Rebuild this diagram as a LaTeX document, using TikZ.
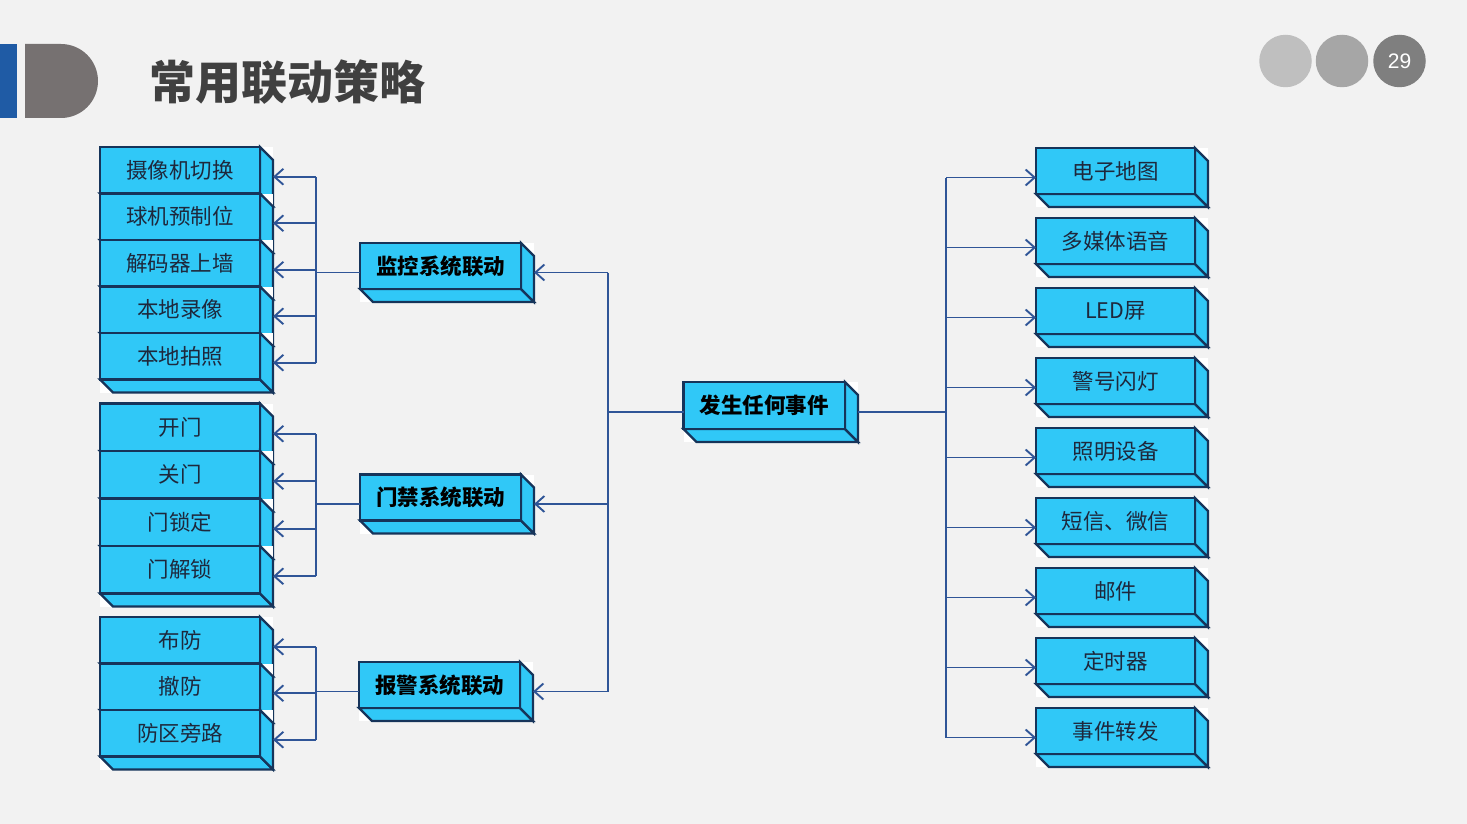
\documentclass[tikz,border=0pt]{standalone}
\usepackage{fontspec}
\setmainfont{Noto Sans CJK SC}
\newfontfamily\latinsans{Liberation Sans}
\usetikzlibrary{arrows.meta,calc}
\definecolor{bg}{RGB}{242,242,242}
\definecolor{boxfill}{RGB}{48,200,247}
\definecolor{boxline}{RGB}{22,52,90}
\definecolor{conn}{RGB}{47,85,151}
\definecolor{txt}{RGB}{30,40,60}
\definecolor{titlec}{RGB}{64,64,64}
\definecolor{barblue}{RGB}{31,91,165}
\definecolor{dgray}{RGB}{118,113,113}
\definecolor{c1}{RGB}{191,191,191}
\definecolor{c2}{RGB}{166,166,166}
\definecolor{c3}{RGB}{127,127,127}
\tikzset{
 face/.style={fill=boxfill, draw=boxline, line width=2.2pt, line join=miter},
 frontbox/.style={face, rectangle, inner sep=0pt, outer sep=0pt, anchor=north west, text=txt, font=\fontsize{21.5}{24}\selectfont},
 mainlabel/.style={font=\fontsize{21.5}{24}\selectfont\bfseries, text=black},
 link/.style={draw=conn, line width=1.9pt},
 arr/.style={link, -{Straight Barb[length=9pt,width=16pt]}},
 dot/.style={circle, inner sep=0pt, minimum size=52.5pt},
}
% #1 extra style, #2 name, #3 x, #4 y, #5 w, #6 h, #7 text
\newcommand\tdbox[7][]{%
 \fill[white] (#3,#4) rectangle (#3+#5+13,#4+#6+13);
 \path[face] (#3,#4+#6) -- (#3+13,#4+#6+13) -- (#3+#5+13,#4+#6+13) -- (#3+#5,#4+#6) -- cycle;
 \path[face] (#3+#5,#4) -- (#3+#5+13,#4+13) -- (#3+#5+13,#4+#6+13) -- (#3+#5,#4+#6) -- cycle;
 \node[frontbox, minimum width=#5, minimum height=#6, #1] (#2) at (#3,#4) {#7};
 \coordinate (#2-l) at (#3,#4+#6/2+6.5);
 \coordinate (#2-r) at (#3+#5+13,#4+#6/2+6.5);
}
\begin{document}
\begin{tikzpicture}[x=1pt,y=-1pt]
\useasboundingbox (0,0) rectangle (1467,824);
\fill[bg] (0,0) rectangle (1467,824);
% header
\fill[barblue] (0,44) rectangle (17,118);
\fill[dgray] (25,44) -- (61,44) arc[start angle=-90, end angle=90, radius=37] -- (25,118) -- cycle;
\node[font=\fontsize{46}{50}\selectfont\bfseries, text=titlec, anchor=west, inner sep=0pt] (title) at (149,82) {常用联动策略};
\node[dot, fill=c1] (d1) at (1285.5,61) {};
\node[dot, fill=c2] (d2) at (1342,61) {};
\node[dot, fill=c3, text=white, font=\latinsans\fontsize{21}{24}\selectfont] (d3) at (1399.5,61) {29};
% left group 1
\tdbox{cam}{100}{147}{160}{46.5}{摄像机切换}
\tdbox{ball}{100}{193.5}{160}{46.5}{球机预制位}
\tdbox{dec}{100}{240}{160}{46.5}{解码器上墙}
\tdbox{rec}{100}{286.5}{160}{46.5}{本地录像}
\tdbox{pho}{100}{333}{160}{46.5}{本地拍照}
% left group 2
\tdbox{kai}{100}{403.5}{160}{47.5}{开门}
\tdbox{guan}{100}{451}{160}{47.5}{关门}
\tdbox{suo}{100}{498.5}{160}{47.5}{门锁定}
\tdbox{jie}{100}{546}{160}{47.5}{门解锁}
% left group 3
\tdbox{bu}{100}{617}{160}{46.5}{布防}
\tdbox{che}{100}{663.5}{160}{46.5}{撤防}
\tdbox{pang}{100}{710}{160}{46.5}{防区旁路}
% middle
\tdbox[mainlabel]{jk}{360}{243}{161}{46}{监控系统联动}
\tdbox[mainlabel]{mj}{360}{474.5}{161}{46}{门禁系统联动}
\tdbox[mainlabel]{bj}{359}{662}{161}{46}{报警系统联动}
% center
\tdbox[mainlabel]{cen}{683.5}{382}{161.5}{47}{发生任何事件}
% right
\tdbox{r1}{1036}{148}{159}{46}{电子地图}
\tdbox{r2}{1036}{218}{159}{46}{多媒体语音}
\tdbox{r3}{1036}{288}{159}{46}{LED屏}
\tdbox{r4}{1036}{358}{159}{46}{警号闪灯}
\tdbox{r5}{1036}{428}{159}{46}{照明设备}
\tdbox{r6}{1036}{498}{159}{46}{短信、微信}
\tdbox{r7}{1036}{568}{159}{46}{邮件}
\tdbox{r8}{1036}{638}{159}{46}{定时器}
\tdbox{r9}{1036}{708}{159}{46}{事件转发}
% connector guides
\coordinate (lv) at (316,0);
\coordinate (mv) at (608,0);
\coordinate (rv) at (946,0);
% group 1
\draw[link] (lv |- cam-r) -- (lv |- pho-r);
\draw[link] (jk-l) -- (lv |- jk-l);
\foreach \b in {cam,ball,dec,rec,pho} \draw[arr] (lv |- \b-r) -- (\b-r);
% group 2
\draw[link] (lv |- kai-r) -- (lv |- jie-r);
\draw[link] (mj-l) -- (lv |- mj-l);
\foreach \b in {kai,guan,suo,jie} \draw[arr] (lv |- \b-r) -- (\b-r);
% group 3
\draw[link] (lv |- bu-r) -- (lv |- pang-r);
\draw[link] (bj-l) -- (lv |- bj-l);
\foreach \b in {bu,che,pang} \draw[arr] (lv |- \b-r) -- (\b-r);
% middle
\draw[link] (mv |- jk-r) -- (mv |- bj-r);
\draw[link] (cen-l) -- (mv |- cen-l);
\foreach \b in {jk,mj,bj} \draw[arr] (mv |- \b-r) -- (\b-r);
% right
\draw[link] (cen-r) -- (rv |- cen-r);
\draw[link] (rv |- r1-l) -- (rv |- r9-l);
\foreach \b in {r1,r2,r3,r4,r5,r6,r7,r8,r9} \draw[arr] (rv |- \b-l) -- (\b-l);
\end{tikzpicture}
\end{document}
